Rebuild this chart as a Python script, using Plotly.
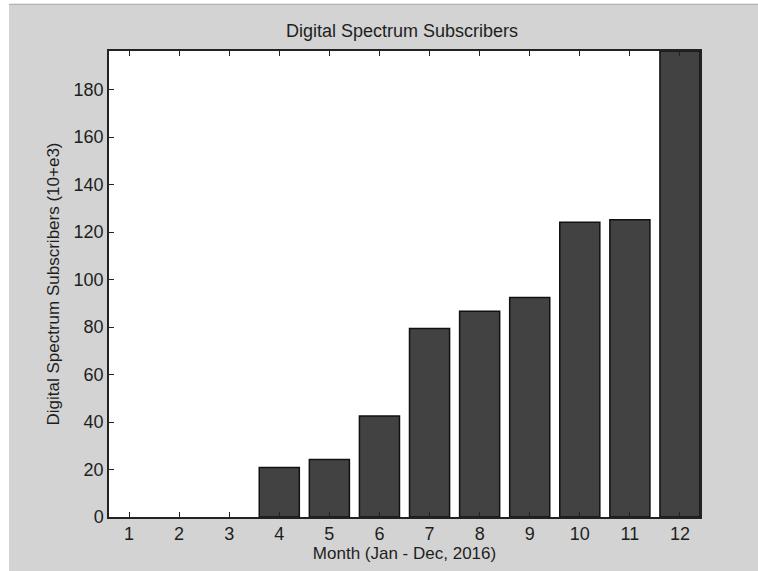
import plotly.graph_objects as go

# Monthly subscriber counts, in thousands
months = [1, 2, 3, 4, 5, 6, 7, 8, 9, 10, 11, 12]
subscribers = [0, 0, 0, 20.8, 24.2, 42.5, 79.4, 86.7, 92.5, 124.2, 125.2, 196.3]
y_ticks = [0, 20, 40, 60, 80, 100, 120, 140, 160, 180]

W, H = 758, 571
L, R, T, B = 109, 58, 51, 54
PW, PH = W - L - R, H - T - B

GREY = "#d3d3d3"
TEXT = "#1e1e1e"
FONT = "Liberation Sans, Arial, sans-serif"


def px_x(x):
    return (x - L) / PW


def px_y(y):
    return (H - B - y) / PH


# empty months get no outline so nothing is drawn for them
edge_widths = [1.5 if v > 0 else 0 for v in subscribers]

fig = go.Figure(
    go.Bar(
        x=months,
        y=subscribers,
        width=0.8,
        marker=dict(color="#424242", line=dict(color="#111111", width=edge_widths)),
    )
)

fig.update_layout(
    width=W,
    height=H,
    margin=dict(l=L, r=R, t=T, b=B),
    paper_bgcolor=GREY,
    plot_bgcolor="white",
    showlegend=False,
    font=dict(family=FONT, size=18, color=TEXT),
    title=dict(
        text="Digital Spectrum Subscribers",
        x=px_x(402), xref="paper", xanchor="center",
        y=1 - 31 / H, yref="container", yanchor="middle",
        font=dict(family=FONT, size=18, color=TEXT),
    ),
    xaxis=dict(
        range=[0.6, 12.4],
        tickmode="array",
        tickvals=months,
        ticktext=[str(m) for m in months],
        ticks="inside",
        ticklen=5,
        tickwidth=1.3,
        tickcolor="#222222",
        showline=True,
        linecolor="#222222",
        linewidth=1.5,
        mirror="allticks",
        showgrid=False,
        zeroline=False,
        tickfont=dict(size=18, color=TEXT),
        title=dict(text="Month (Jan - Dec, 2016)", standoff=0,
                   font=dict(size=17, color=TEXT)),
    ),
    yaxis=dict(
        range=[0, 196.3],
        tickmode="array",
        tickvals=y_ticks,
        ticktext=[str(v) for v in y_ticks],
        ticks="inside",
        ticklen=5,
        tickwidth=1.3,
        tickcolor="#222222",
        showline=True,
        linecolor="#222222",
        linewidth=1.5,
        mirror=True,
        showgrid=False,
        zeroline=False,
        tickfont=dict(size=18, color=TEXT),
        title=dict(text="Digital Spectrum Subscribers (10+e3)", standoff=10,
                   font=dict(size=17, color=TEXT)),
    ),
    shapes=[
        # white strips along the top and left edges of the window frame
        dict(type="rect", xref="paper", yref="paper",
             x0=px_x(0), x1=px_x(W), y0=px_y(0), y1=px_y(3.5),
             fillcolor="white", line=dict(width=0), layer="below"),
        dict(type="rect", xref="paper", yref="paper",
             x0=px_x(0), x1=px_x(9), y0=px_y(0), y1=px_y(H),
             fillcolor="white", line=dict(width=0), layer="below"),
        dict(type="line", xref="paper", yref="paper",
             x0=px_x(9), x1=px_x(W), y0=px_y(4.5), y1=px_y(4.5),
             line=dict(color="#b4b4b4", width=1.2), layer="below"),
    ],
)

fig.write_html("out.html")
